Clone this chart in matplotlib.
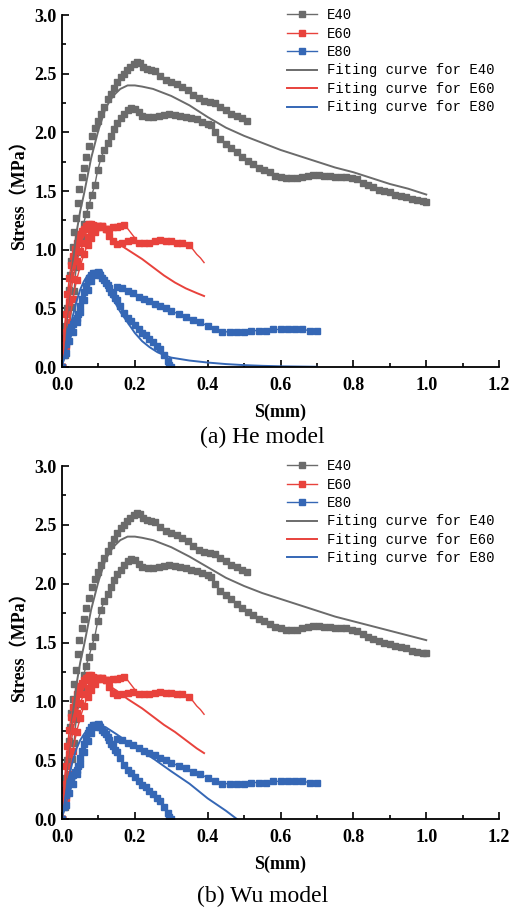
import numpy as np
import matplotlib
matplotlib.use('Agg')
import matplotlib.pyplot as plt
from matplotlib.ticker import MultipleLocator

# E40 experimental curves
e40a_x = [0, 0.005, 0.01, 0.014, 0.018, 0.022, 0.026, 0.03, 0.034, 0.038, 0.043, 0.048, 0.054, 0.06,
          0.067, 0.074, 0.082, 0.09, 0.098, 0.107, 0.116, 0.125, 0.134, 0.143, 0.152, 0.161, 0.17,
          0.179, 0.188, 0.197, 0.205, 0.213, 0.222, 0.232, 0.244, 0.256, 0.27, 0.285, 0.3, 0.315,
          0.33, 0.345, 0.36, 0.375, 0.39, 0.405, 0.42, 0.435, 0.45, 0.465, 0.48, 0.495, 0.507]
e40a_y = [0, 0.15, 0.35, 0.5, 0.66, 0.78, 0.9, 1.02, 1.15, 1.27, 1.4, 1.52, 1.62, 1.7,
          1.79, 1.88, 1.97, 2.04, 2.1, 2.16, 2.22, 2.28, 2.33, 2.38, 2.43, 2.47, 2.5,
          2.53, 2.56, 2.58, 2.6, 2.59, 2.56, 2.54, 2.53, 2.52, 2.48, 2.45, 2.43, 2.41,
          2.39, 2.36, 2.32, 2.29, 2.27, 2.26, 2.25, 2.22, 2.19, 2.16, 2.14, 2.12, 2.10]

e40b_x = [0, 0.008, 0.015, 0.021, 0.027, 0.033, 0.039, 0.045, 0.052, 0.059,
          0.066, 0.074, 0.082, 0.09, 0.098, 0.107, 0.116, 0.125, 0.134, 0.143,
          0.152, 0.161, 0.17, 0.18, 0.19, 0.2, 0.21, 0.22, 0.235, 0.25,
          0.265, 0.28, 0.295, 0.31, 0.325, 0.34, 0.355, 0.37, 0.385, 0.4,
          0.41, 0.42, 0.435, 0.45, 0.465, 0.48, 0.495, 0.51, 0.525, 0.54,
          0.555, 0.57, 0.585, 0.6, 0.615, 0.63, 0.645, 0.66, 0.675, 0.69,
          0.705, 0.72, 0.735, 0.75, 0.765, 0.78, 0.795, 0.81, 0.825, 0.84,
          0.855, 0.87, 0.885, 0.9, 0.915, 0.93, 0.945, 0.96, 0.975, 0.99, 1.0]
e40b_y = [0, 0.1, 0.22, 0.36, 0.51, 0.65, 0.85, 0.98, 1.1, 1.22,
          1.3, 1.38, 1.47, 1.55, 1.68, 1.78, 1.85, 1.91, 1.97, 2.03,
          2.08, 2.12, 2.16, 2.19, 2.21, 2.2, 2.17, 2.14, 2.13, 2.13,
          2.14, 2.15, 2.16, 2.15, 2.14, 2.13, 2.12, 2.11, 2.09, 2.07,
          2.06, 2.0, 1.94, 1.9, 1.87, 1.83, 1.79, 1.76, 1.73, 1.7,
          1.68, 1.66, 1.63, 1.62, 1.61, 1.61, 1.61, 1.62, 1.63, 1.64,
          1.64, 1.63, 1.63, 1.62, 1.62, 1.62, 1.61, 1.6, 1.57, 1.55,
          1.53, 1.51, 1.5, 1.49, 1.47, 1.46, 1.45, 1.43, 1.42, 1.415, 1.41]

# E60 experimental curves
e60a_x = [0, 0.005, 0.01, 0.015, 0.02, 0.025, 0.03, 0.035, 0.04, 0.045, 0.05, 0.055, 0.06, 0.065, 0.07,
          0.075, 0.08, 0.085, 0.09, 0.1, 0.11, 0.12, 0.13, 0.14, 0.15, 0.16, 0.17, 0.18, 0.19, 0.2]
e60a_y = [0, 0.25, 0.45, 0.62, 0.76, 0.87, 0.95, 1.01, 1.06, 1.1, 1.13, 1.16, 1.18, 1.2, 1.21,
          1.22, 1.22, 1.21, 1.2, 1.2, 1.19, 1.18, 1.18, 1.19, 1.19, 1.2, 1.21, 1.18, 1.14, 1.1]
e60b_x = [0, 0.01, 0.02, 0.03, 0.04, 0.05, 0.06, 0.07, 0.08, 0.09, 0.1, 0.11, 0.12, 0.13, 0.14, 0.15,
          0.165, 0.18, 0.195, 0.21, 0.225, 0.24, 0.255, 0.27, 0.285, 0.3, 0.315, 0.33, 0.35,
          0.36, 0.37, 0.38, 0.39]
e60b_y = [0, 0.3, 0.55, 0.75, 0.9, 0.99, 1.06, 1.11, 1.15, 1.18, 1.2, 1.2, 1.18, 1.12, 1.07, 1.05,
          1.06, 1.07, 1.08, 1.06, 1.06, 1.06, 1.07, 1.08, 1.07, 1.07, 1.06, 1.06, 1.04,
          1.0, 0.96, 0.93, 0.89]
e60c_x = [0, 0.01, 0.02, 0.03, 0.04, 0.05, 0.06, 0.07, 0.08, 0.09, 0.1, 0.11]
e60c_y = [0, 0.18, 0.38, 0.58, 0.74, 0.86, 0.96, 1.04, 1.1, 1.15, 1.19, 1.2]

# E80 experimental curves
e80a_x = [0, 0.005, 0.01, 0.015, 0.02, 0.025, 0.03, 0.035, 0.04, 0.045, 0.05, 0.055, 0.06, 0.065,
          0.07, 0.075, 0.08, 0.085, 0.09, 0.095, 0.1, 0.105, 0.11, 0.115, 0.12, 0.125, 0.13, 0.135,
          0.14, 0.145, 0.15, 0.16, 0.17, 0.18, 0.19, 0.2, 0.21, 0.22, 0.23, 0.24, 0.25, 0.26,
          0.27, 0.28, 0.29, 0.295, 0.3]
e80a_y = [0, 0.1, 0.2, 0.27, 0.31, 0.34, 0.37, 0.4, 0.42, 0.45, 0.52, 0.58, 0.64, 0.69,
          0.73, 0.76, 0.78, 0.8, 0.8, 0.8, 0.79, 0.78, 0.76, 0.74, 0.72, 0.7, 0.67, 0.64,
          0.62, 0.59, 0.57, 0.52, 0.46, 0.42, 0.39, 0.36, 0.32, 0.29, 0.27, 0.24, 0.21, 0.18,
          0.15, 0.1, 0.05, 0.02, 0.0]
e80b_x = [0, 0.01, 0.02, 0.03, 0.04, 0.05, 0.06, 0.07, 0.08, 0.09, 0.1, 0.109, 0.115, 0.12, 0.13,
          0.14, 0.15, 0.165, 0.18, 0.195, 0.21, 0.225, 0.24, 0.255, 0.27, 0.285, 0.3, 0.32, 0.34,
          0.36, 0.38, 0.4, 0.42, 0.44, 0.46, 0.48, 0.5, 0.52, 0.54, 0.56, 0.58, 0.6, 0.62, 0.64,
          0.66, 0.68, 0.7]
e80b_y = [0, 0.12, 0.22, 0.3, 0.38, 0.47, 0.57, 0.66, 0.73, 0.78, 0.81, 0.83, 0.78, 0.72, 0.62,
          0.6, 0.68, 0.67, 0.65, 0.63, 0.6, 0.58, 0.56, 0.54, 0.52, 0.5, 0.48, 0.45, 0.43,
          0.4, 0.38, 0.35, 0.32, 0.3, 0.3, 0.3, 0.3, 0.31, 0.31, 0.31, 0.32, 0.32, 0.32, 0.32,
          0.32, 0.31, 0.31]

# fitting curves, He model (a) and Wu model (b)
fit40_x = [0, 0.01, 0.02, 0.03, 0.04, 0.05, 0.06, 0.08, 0.1, 0.12, 0.14, 0.16, 0.18, 0.2, 0.22,
           0.25, 0.3, 0.35, 0.4, 0.45, 0.5, 0.55, 0.6, 0.65, 0.7, 0.75, 0.8, 0.85, 0.9, 0.95, 1.0]
he40_y = [0, 0.32, 0.62, 0.9, 1.15, 1.33, 1.47, 1.78, 2.02, 2.21, 2.31, 2.37, 2.4, 2.4, 2.39,
          2.37, 2.31, 2.23, 2.13, 2.04, 1.97, 1.91, 1.85, 1.8, 1.75, 1.7, 1.66, 1.61, 1.56, 1.52, 1.47]
wu40_y = [0, 0.32, 0.62, 0.9, 1.15, 1.33, 1.47, 1.78, 2.02, 2.21, 2.31, 2.37, 2.4, 2.4, 2.39,
          2.37, 2.31, 2.23, 2.14, 2.05, 1.98, 1.92, 1.87, 1.82, 1.77, 1.72, 1.68, 1.64, 1.6, 1.56, 1.52]

fit60_x = [0, 0.005, 0.01, 0.02, 0.03, 0.04, 0.05, 0.06, 0.07, 0.08, 0.09, 0.1, 0.12, 0.14, 0.16,
           0.18, 0.2, 0.22, 0.25, 0.28, 0.31, 0.34, 0.37, 0.39]
he60_y = [0, 0.2, 0.38, 0.65, 0.84, 0.97, 1.06, 1.12, 1.16, 1.19, 1.2, 1.2, 1.15, 1.09, 1.04,
          1.0, 0.96, 0.92, 0.85, 0.78, 0.72, 0.67, 0.63, 0.605]
wu60_y = [0, 0.2, 0.38, 0.65, 0.84, 0.97, 1.06, 1.12, 1.16, 1.19, 1.2, 1.2, 1.16, 1.11, 1.07,
          1.02, 0.98, 0.94, 0.87, 0.8, 0.74, 0.67, 0.6, 0.56]

he80_x = [0, 0.01, 0.02, 0.03, 0.04, 0.05, 0.06, 0.07, 0.08, 0.09, 0.1, 0.11, 0.12, 0.14, 0.16,
          0.18, 0.2, 0.22, 0.24, 0.26, 0.28, 0.3, 0.35, 0.4, 0.45, 0.5, 0.55, 0.6, 0.65, 0.7]
he80_y = [0, 0.15, 0.3, 0.44, 0.56, 0.66, 0.73, 0.78, 0.8, 0.8, 0.78, 0.74, 0.69, 0.58, 0.47,
          0.38, 0.29, 0.22, 0.17, 0.13, 0.1, 0.08, 0.055, 0.038, 0.025, 0.016, 0.01, 0.006, 0.004, 0.002]
wu80_x = [0, 0.01, 0.02, 0.03, 0.04, 0.05, 0.06, 0.07, 0.08, 0.09, 0.1, 0.12, 0.15, 0.2, 0.25,
          0.3, 0.35, 0.4, 0.45, 0.48]
wu80_y = [0, 0.2, 0.37, 0.5, 0.6, 0.67, 0.72, 0.76, 0.78, 0.8, 0.8, 0.78, 0.72, 0.61, 0.515,
          0.405, 0.3, 0.175, 0.07, 0.0]

captions = ['(a) He model', '(b) Wu model']

gray = '#6b6b6b'
red = '#e8423c'
blue = '#3567b5'

fig = plt.figure(figsize=(5.1, 9.1), dpi=100)
ax_pos = [[0.1216, 0.5967, 0.857, 0.3868], [0.1216, 0.1, 0.857, 0.3879]]
cap_y = [0.5198, 0.0145]
fits = [(he40_y, he60_y, he80_x, he80_y), (wu40_y, wu60_y, wu80_x, wu80_y)]

serif = ['Liberation Serif', 'DejaVu Serif']

for k in range(2):
    ax = fig.add_axes(ax_pos[k])
    f40, f60, f80x, f80y = fits[k]
    mk = dict(marker='s', markersize=3.8, lw=1.0)

    # experimental data
    ax.plot(e40a_x, e40a_y, color=gray, ls='', **dict(mk, lw=0))
    ax.plot(e40b_x, e40b_y, color=gray, label='E40', **mk)
    ax.plot(e60a_x, e60a_y, color=red, markevery=slice(0, 27), **mk)
    ax.plot(e60b_x, e60b_y, color=red, markevery=slice(0, 29), label='E60', **mk)
    ax.plot(e60c_x, e60c_y, color=red, **mk)
    ax.plot(e80a_x, e80a_y, color=blue, **mk)
    ax.plot(e80b_x, e80b_y, color=blue, markevery=list(range(1, 11)) + list(range(16, 47)),
            label='E80', **mk)

    # fitting curves
    ax.plot(fit40_x, f40, color=gray, lw=1.4, label='Fiting curve for E40')
    ax.plot(fit60_x, f60, color=red, lw=1.4, label='Fiting curve for E60')
    ax.plot(f80x, f80y, color=blue, lw=1.4, label='Fiting curve for E80')

    ax.set_xlim(0, 1.2)
    ax.set_ylim(0, 3.0)
    ax.xaxis.set_major_locator(MultipleLocator(0.2))
    ax.xaxis.set_minor_locator(MultipleLocator(0.1))
    ax.yaxis.set_major_locator(MultipleLocator(0.5))
    ax.yaxis.set_minor_locator(MultipleLocator(0.25))
    ax.tick_params(which='both', direction='in', width=1.2)
    ax.tick_params(which='major', length=5, labelsize=13, pad=4)
    ax.tick_params(axis='x', which='major', pad=7)
    ax.tick_params(which='minor', length=3)
    for s in ['top', 'right']:
        ax.spines[s].set_visible(False)
    for s in ['left', 'bottom']:
        ax.spines[s].set_linewidth(1.3)
    for lab in ax.get_xticklabels() + ax.get_yticklabels():
        lab.set_fontfamily(serif)
        lab.set_fontweight('bold')

    ax.set_xlabel('S(mm)', family=serif, fontweight='bold', fontsize=13, labelpad=7)
    ax.set_ylabel('Stress（MPa）', family=['Liberation Serif', 'Noto Sans CJK SC'],
                  fontweight='bold', fontsize=13, labelpad=4)

    h, l = ax.get_legend_handles_labels()
    order = [l.index(t) for t in ['E40', 'E60', 'E80', 'Fiting curve for E40',
                                  'Fiting curve for E60', 'Fiting curve for E80']]
    ax.legend([h[i] for i in order], [l[i] for i in order], loc='upper right',
              bbox_to_anchor=(1.018, 1.055), frameon=False, handlelength=2.2,
              labelspacing=0.32, handletextpad=0.7,
              prop={'family': 'Liberation Mono', 'size': 10})

    fig.text(0.515, cap_y[k], captions[k], ha='center', va='center',
             family=serif, fontsize=17)

plt.savefig('out.png', dpi=100)
